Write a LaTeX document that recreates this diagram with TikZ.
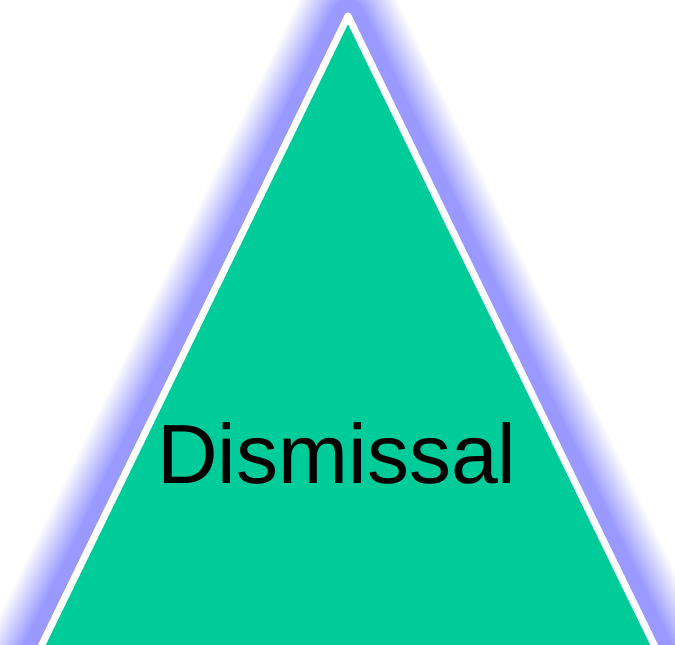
\documentclass[tikz,border=0pt]{standalone}
\usepackage{fontspec}
\setmainfont{Liberation Sans}
\definecolor{fillgreen}{RGB}{0,204,153}
\definecolor{glowblue}{RGB}{153,153,255}
\begin{document}
\begin{tikzpicture}[x=1pt,y=-1pt,
  tri/.style={line join=round},
  label/.style={anchor=base,inner sep=0pt,font=\fontsize{84}{84}\selectfont,text=black}]
\useasboundingbox (0,0) rectangle (675,645);
\clip (0,0) rectangle (675,645);
\coordinate (A) at (348,16);
\coordinate (B) at (15,700);
\coordinate (C) at (681,700);
\foreach \i in {0,...,30}{
  \pgfmathsetmacro{\w}{104-\i*(72/30)}
  \pgfmathsetmacro{\c}{100*\i/30}
  \draw[tri,line width=\w pt,draw=glowblue!\c!white] (A) -- (B) -- (C) -- cycle;
}
\draw[tri,line width=7pt,draw=white,fill=fillgreen] (A) -- (B) -- (C) -- cycle;
\node[label] (t) at (337,483) {Dismissal};
\end{tikzpicture}
\end{document}
